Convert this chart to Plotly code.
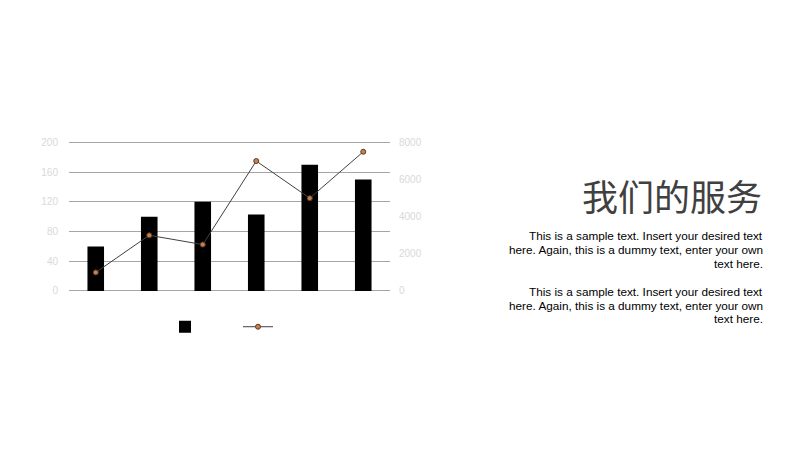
import plotly.graph_objects as go

categorias = ['类别1', '类别2', '类别3', '类别4', '类别5', '类别6']
valores_barra = [60, 100, 120, 103, 170, 150]
valores_linha = [1000, 3000, 2500, 7000, 5000, 7500]

ticks_esq = [0, 40, 80, 120, 160, 200]
ticks_dir = [0, 2000, 4000, 6000, 8000]

titulo = '我们的服务'
linhas_texto = [
    'This is a sample text. Insert your desired text',
    'here. Again, this is a dummy text, enter your own',
    'text here.',
]

W, H = 800, 450
OFF = 8  # margem do body da pagina


def px(x):
    return (x - OFF) / W


def py(y):
    return 1 - (y - OFF) / H


fig = go.Figure()

fig.add_trace(go.Bar(
    x=categorias, y=valores_barra, name=' ',
    marker=dict(color='#000000', line=dict(width=0)),
    width=0.31
))

fig.add_trace(go.Scatter(
    x=categorias, y=valores_linha, name=' ', yaxis='y2',
    mode='lines+markers',
    line=dict(color='#404040', width=1),
    marker=dict(size=5, color='#c8804a', line=dict(color='#5a3a28', width=1))
))

fig.add_annotation(
    text=titulo, xref='paper', yref='paper', x=px(764), y=py(194),
    xanchor='right', yanchor='middle', showarrow=False,
    font=dict(family='Noto Sans CJK SC', size=36, color='#404040')
)

# dois paragrafos iguais, uma anotacao por linha
for y_inicio in [236, 292]:
    for i, linha in enumerate(linhas_texto):
        fig.add_annotation(
            text=linha, xref='paper', yref='paper', x=px(765), y=py(y_inicio + 14 * i),
            xanchor='right', yanchor='middle', showarrow=False,
            font=dict(family='Liberation Sans', size=11.75, color='#000000')
        )

fig.update_layout(
    width=W, height=H,
    margin=dict(l=0, r=0, t=0, b=0),
    plot_bgcolor='white', paper_bgcolor='white',
    showlegend=True,
    legend=dict(
        orientation='h', x=px(165), y=py(328),
        xanchor='left', yanchor='middle',
        entrywidth=28, entrywidthmode='pixels',
        font=dict(size=10, color='#ffffff'),
        bgcolor='rgba(0,0,0,0)'
    ),
    xaxis=dict(
        domain=[px(69), px(390)],
        showticklabels=False, showgrid=False, zeroline=False,
        showline=False, ticks=''
    ),
    yaxis=dict(
        domain=[py(294), py(139)],
        range=[-3, 203], tickvals=ticks_esq,
        showgrid=True, gridcolor='#a6a6a6', gridwidth=1,
        zeroline=True, zerolinecolor='#a6a6a6', zerolinewidth=1,
        showline=False,
        tickfont=dict(family='Liberation Sans', size=10, color='#d9d9d9'),
        ticklabelstandoff=10
    ),
    yaxis2=dict(
        overlaying='y', side='right',
        range=[-120, 8120], tickvals=ticks_dir,
        showgrid=False, zeroline=False, showline=False,
        tickfont=dict(family='Liberation Sans', size=10, color='#d9d9d9'),
        ticklabelstandoff=8
    )
)

fig.write_html('out.html')
